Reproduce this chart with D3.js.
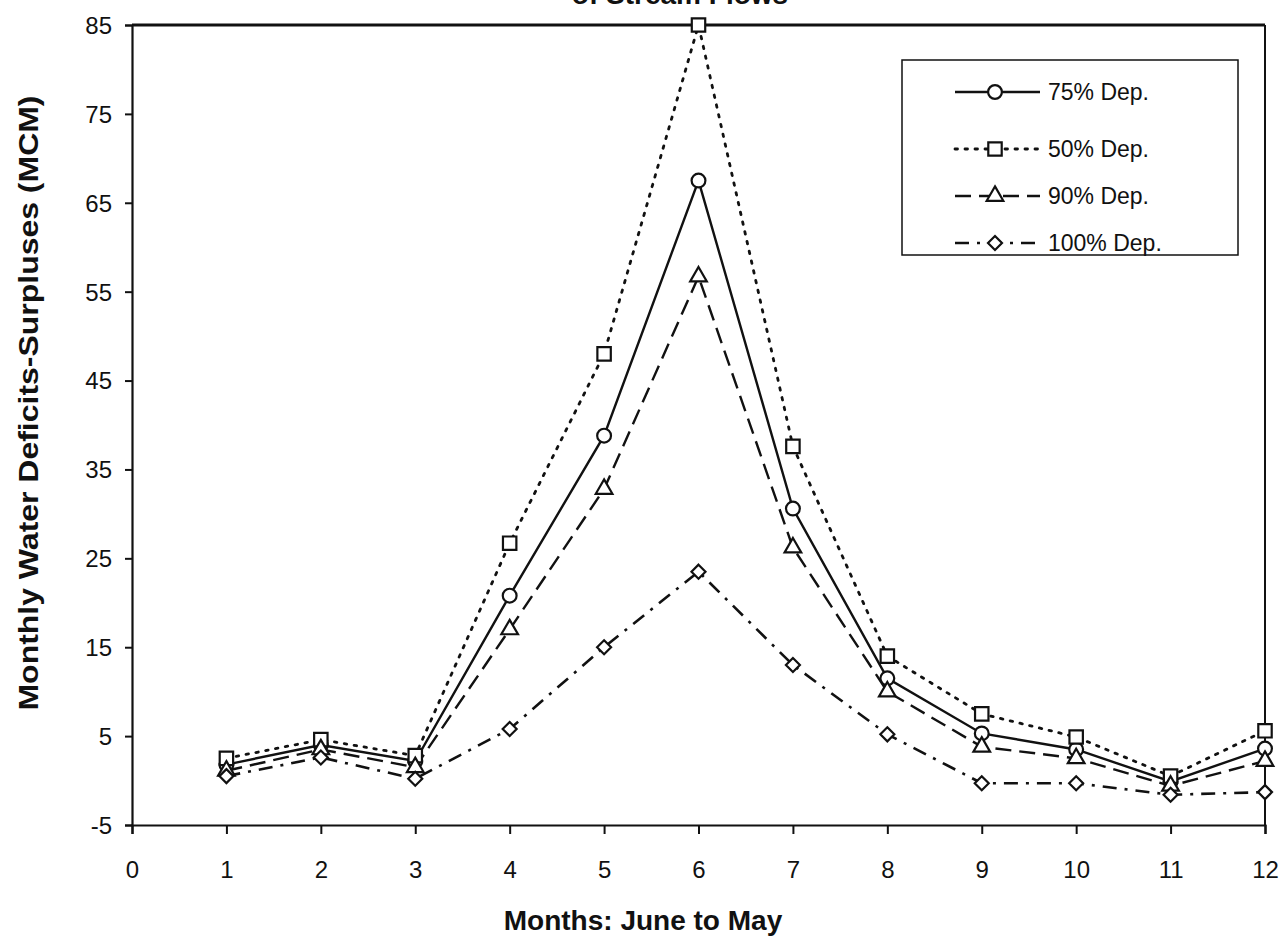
<!DOCTYPE html>
<html>
<head>
<meta charset="utf-8">
<script src="https://cdn.jsdelivr.net/npm/d3@7"></script>
<style>
  html, body { margin: 0; padding: 0; background: #ffffff; }
  svg { display: block; }
  text { font-family: Arial, "Liberation Sans", Helvetica, sans-serif; fill: #111; }
</style>
</head>
<body>
<svg id="chart" width="1285" height="950"></svg>
<script>
// Months (June = 1 ... May = 12)
const months = [1, 2, 3, 4, 5, 6, 7, 8, 9, 10, 11, 12];

// Monthly water deficits-surpluses (MCM) for each dependability level
const dep75  = [1.8, 4.0, 2.2, 20.8, 38.8, 67.5, 30.6, 11.5, 5.3, 3.5, -0.1, 3.6];
const dep50  = [2.5, 4.6, 2.8, 26.7, 48.0, 85.0, 37.6, 14.0, 7.5, 4.9, 0.5, 5.6];
const dep90  = [1.1, 3.5, 1.5, 17.0, 32.8, 56.7, 26.2, 10.0, 3.8, 2.5, -0.6, 2.2];
const dep100 = [0.5, 2.6, 0.2, 5.8, 15.0, 23.5, 13.0, 5.2, -0.3, -0.3, -1.6, -1.3];

const seriesNames = ["75% Dep.", "50% Dep.", "90% Dep.", "100% Dep."];
const xTicks = [0, 1, 2, 3, 4, 5, 6, 7, 8, 9, 10, 11, 12];
const yTicks = [-5, 5, 15, 25, 35, 45, 55, 65, 75, 85];

const series = [
  { name: seriesNames[0], values: dep75,  dash: null,         width: 2.4, marker: "circle" },
  { name: seriesNames[1], values: dep50,  dash: "2.5,7.5",    width: 2.8, marker: "square" },
  { name: seriesNames[2], values: dep90,  dash: "16,8",       width: 2.4, marker: "triangle" },
  { name: seriesNames[3], values: dep100, dash: "14,8,3,8",   width: 2.6, marker: "diamond" }
];

const svg = d3.select("#chart");
const plotLeft = 132, plotRight = 1265, plotTop = 25, plotBottom = 825;

const x = d3.scaleLinear().domain([0, 12]).range([plotLeft, plotRight]);
const y = d3.scaleLinear().domain([-5, 85]).range([plotBottom, plotTop]);

// Title (runs off the top edge of the page)
svg.append("text")
  .attr("x", 680).attr("y", 4)
  .attr("text-anchor", "middle")
  .style("font-size", "28px")
  .style("font-weight", "bold")
  .text("of Stream Flows");

// Plot frame: top and right borders
svg.append("line").attr("x1", plotLeft).attr("x2", plotRight).attr("y1", plotTop).attr("y2", plotTop)
  .attr("stroke", "#111").attr("stroke-width", 3);
svg.append("line").attr("x1", plotRight).attr("x2", plotRight).attr("y1", plotTop).attr("y2", plotBottom)
  .attr("stroke", "#111").attr("stroke-width", 2);

// Axes
const plainNum = d => String(d);
const xAxis = d3.axisBottom(x).tickValues(xTicks).tickSize(9).tickPadding(27).tickFormat(plainNum);
const yAxis = d3.axisLeft(y).tickValues(yTicks).tickSize(7).tickPadding(13).tickFormat(plainNum);

const gx = svg.append("g").attr("transform", `translate(0,${plotBottom})`).call(xAxis);
const gy = svg.append("g").attr("transform", `translate(${plotLeft},0)`).call(yAxis);
[gx, gy].forEach(g => {
  g.select(".domain").attr("stroke", "#111").attr("stroke-width", 2.2);
  g.selectAll(".tick line").attr("stroke", "#111").attr("stroke-width", 2);
  g.selectAll(".tick text")
    .style("font-size", "24px")
    .style("font-family", "Arial, 'Liberation Sans', sans-serif")
    .attr("fill", "#111");
});
gy.selectAll(".tick text").attr("dy", "0.35em");

// Axis titles
svg.append("text")
  .attr("x", 643).attr("y", 930)
  .attr("text-anchor", "middle")
  .style("font-size", "28px").style("font-weight", "bold")
  .text("Months: June to May");

svg.append("text")
  .attr("transform", "translate(38,403) rotate(-90)")
  .attr("text-anchor", "middle")
  .attr("textLength", 615)
  .attr("lengthAdjust", "spacingAndGlyphs")
  .style("font-size", "28px").style("font-weight", "bold")
  .text("Monthly Water Deficits-Surpluses (MCM)");

// Marker symbols
function markerPath(kind) {
  switch (kind) {
    case "circle":   return d3.symbol().type(d3.symbolCircle).size(150)();
    case "square":   return d3.symbol().type(d3.symbolSquare).size(180)();
    case "triangle": return d3.symbol().type(d3.symbolTriangle).size(120)();
    case "diamond":  return "M0,-7L7,0L0,7L-7,0Z";
  }
}

const line = d3.line().x((d, i) => x(months[i])).y(d => y(d));

const plot = svg.append("g");
series.forEach(s => {
  plot.append("path")
    .datum(s.values)
    .attr("d", line)
    .attr("fill", "none")
    .attr("stroke", "#111")
    .attr("stroke-width", s.width)
    .attr("stroke-linecap", s.marker === "square" ? "round" : "butt")
    .attr("stroke-dasharray", s.dash);
});
series.forEach(s => {
  plot.selectAll(null)
    .data(s.values)
    .join("path")
    .attr("transform", (d, i) => `translate(${x(months[i])},${y(d)})`)
    .attr("d", markerPath(s.marker))
    .attr("fill", "#fff")
    .attr("stroke", "#111")
    .attr("stroke-width", 2.2);
});

// Legend
const legend = svg.append("g");
legend.append("rect")
  .attr("x", 902).attr("y", 60).attr("width", 336).attr("height", 195)
  .attr("fill", "#fff").attr("stroke", "#111").attr("stroke-width", 1.5);

const rowY = [92, 149, 196, 243];
series.forEach((s, i) => {
  const g = legend.append("g").attr("transform", `translate(0,${rowY[i]})`);
  g.append("line")
    .attr("x1", 955).attr("x2", 1040).attr("y1", 0).attr("y2", 0)
    .attr("stroke", "#111").attr("stroke-width", s.width)
    .attr("stroke-linecap", s.marker === "square" ? "round" : "butt")
    .attr("stroke-dasharray", s.dash);
  g.append("path")
    .attr("transform", "translate(995,0)")
    .attr("d", markerPath(s.marker))
    .attr("fill", "#fff").attr("stroke", "#111").attr("stroke-width", 2.2);
  g.append("text")
    .attr("x", 1048).attr("y", 0).attr("dy", "0.35em")
    .style("font-size", "23px")
    .text(s.name);
});
</script>
</body>
</html>
